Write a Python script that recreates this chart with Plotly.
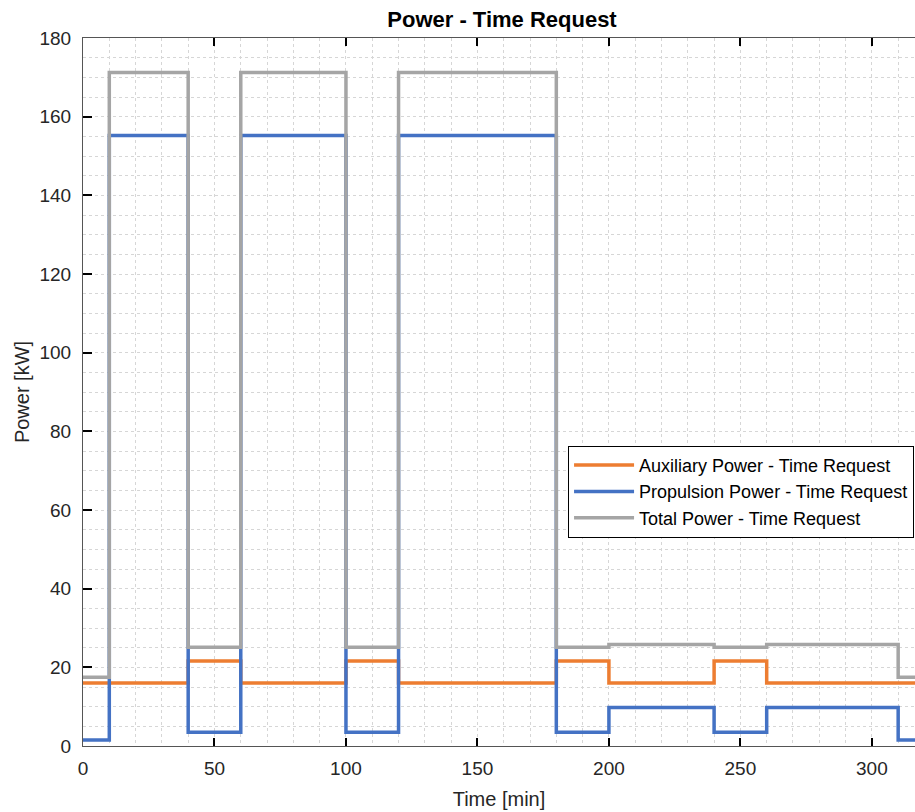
import plotly.graph_objects as go

# Step change times [min]
times = [0, 10, 40, 60, 100, 120, 180, 200, 240, 260, 310, 320]
aux_power = [16, 16, 21.6, 16, 21.6, 16, 21.6, 16, 21.6, 16, 16, 16]
prop_power = [1.5, 155.2, 3.5, 155.2, 3.5, 155.2, 3.5, 9.8, 3.5, 9.8, 1.5, 1.5]
total_power = [a + p for a, p in zip(aux_power, prop_power)]

series_names = ["Auxiliary Power - Time Request",
                "Propulsion Power - Time Request",
                "Total Power - Time Request"]
series_colors = ["#ED7D31", "#4472C4", "#A5A5A5"]
series_values = [aux_power, prop_power, total_power]

FONT = "Liberation Sans, Arial, sans-serif"
AX = "#262626"

fig = go.Figure()
for name, col, vals in zip(series_names, series_colors, series_values):
    fig.add_trace(go.Scatter(x=times, y=vals, mode="lines", name=name,
                             line=dict(color=col, width=3.5, shape="hv")))

grid = "#d6d6d6"
fig.update_layout(
    width=915, height=812,
    margin=dict(l=83, r=0, t=38, b=66),
    paper_bgcolor="white", plot_bgcolor="white",
    font=dict(family=FONT, color=AX),
    title=dict(text="<b>Power - Time Request</b>", xref="paper", x=0.5036,
               xanchor="center", y=1 - 19 / 812, yanchor="middle",
               font=dict(size=22, color="black", family=FONT)),
    showlegend=True,
    legend=dict(x=0.583, y=0.424, xanchor="left", yanchor="top",
                bgcolor="white", bordercolor="black", borderwidth=1,
                font=dict(size=18, color="black", family=FONT),
                itemwidth=60, tracegroupgap=0),
    xaxis=dict(range=[0, 316.4], tickmode="array",
               tickvals=[0, 50, 100, 150, 200, 250, 300],
               ticks="inside", ticklen=8, tickwidth=1.5, tickcolor="black",
               showline=True, linecolor="#555", linewidth=1, mirror="ticks",
               showgrid=True, gridcolor=grid, griddash="dot", gridwidth=1,
               minor=dict(dtick=10, tick0=0, showgrid=True, gridcolor=grid,
                          griddash="dot", gridwidth=1),
               zeroline=False, ticklabelstandoff=5,
               tickfont=dict(size=19, color=AX, family=FONT),
               title=dict(text="Time [min]", font=dict(size=20, color=AX, family=FONT),
                          standoff=14)),
    yaxis=dict(range=[0, 180], tickmode="array",
               tickvals=[0, 20, 40, 60, 80, 100, 120, 140, 160, 180],
               ticks="inside", ticklen=9, tickwidth=1.5, tickcolor="black",
               showline=True, linecolor="#555", linewidth=1, mirror=False,
               showgrid=True, gridcolor=grid, griddash="dot", gridwidth=1,
               minor=dict(dtick=5, tick0=0, showgrid=True, gridcolor=grid,
                          griddash="dot", gridwidth=1),
               zeroline=False, ticklabelstandoff=7,
               tickfont=dict(size=19, color=AX, family=FONT),
               title=dict(text="Power [kW]", font=dict(size=20, color=AX, family=FONT),
                          standoff=4)),
)

fig.write_html("out.html")
